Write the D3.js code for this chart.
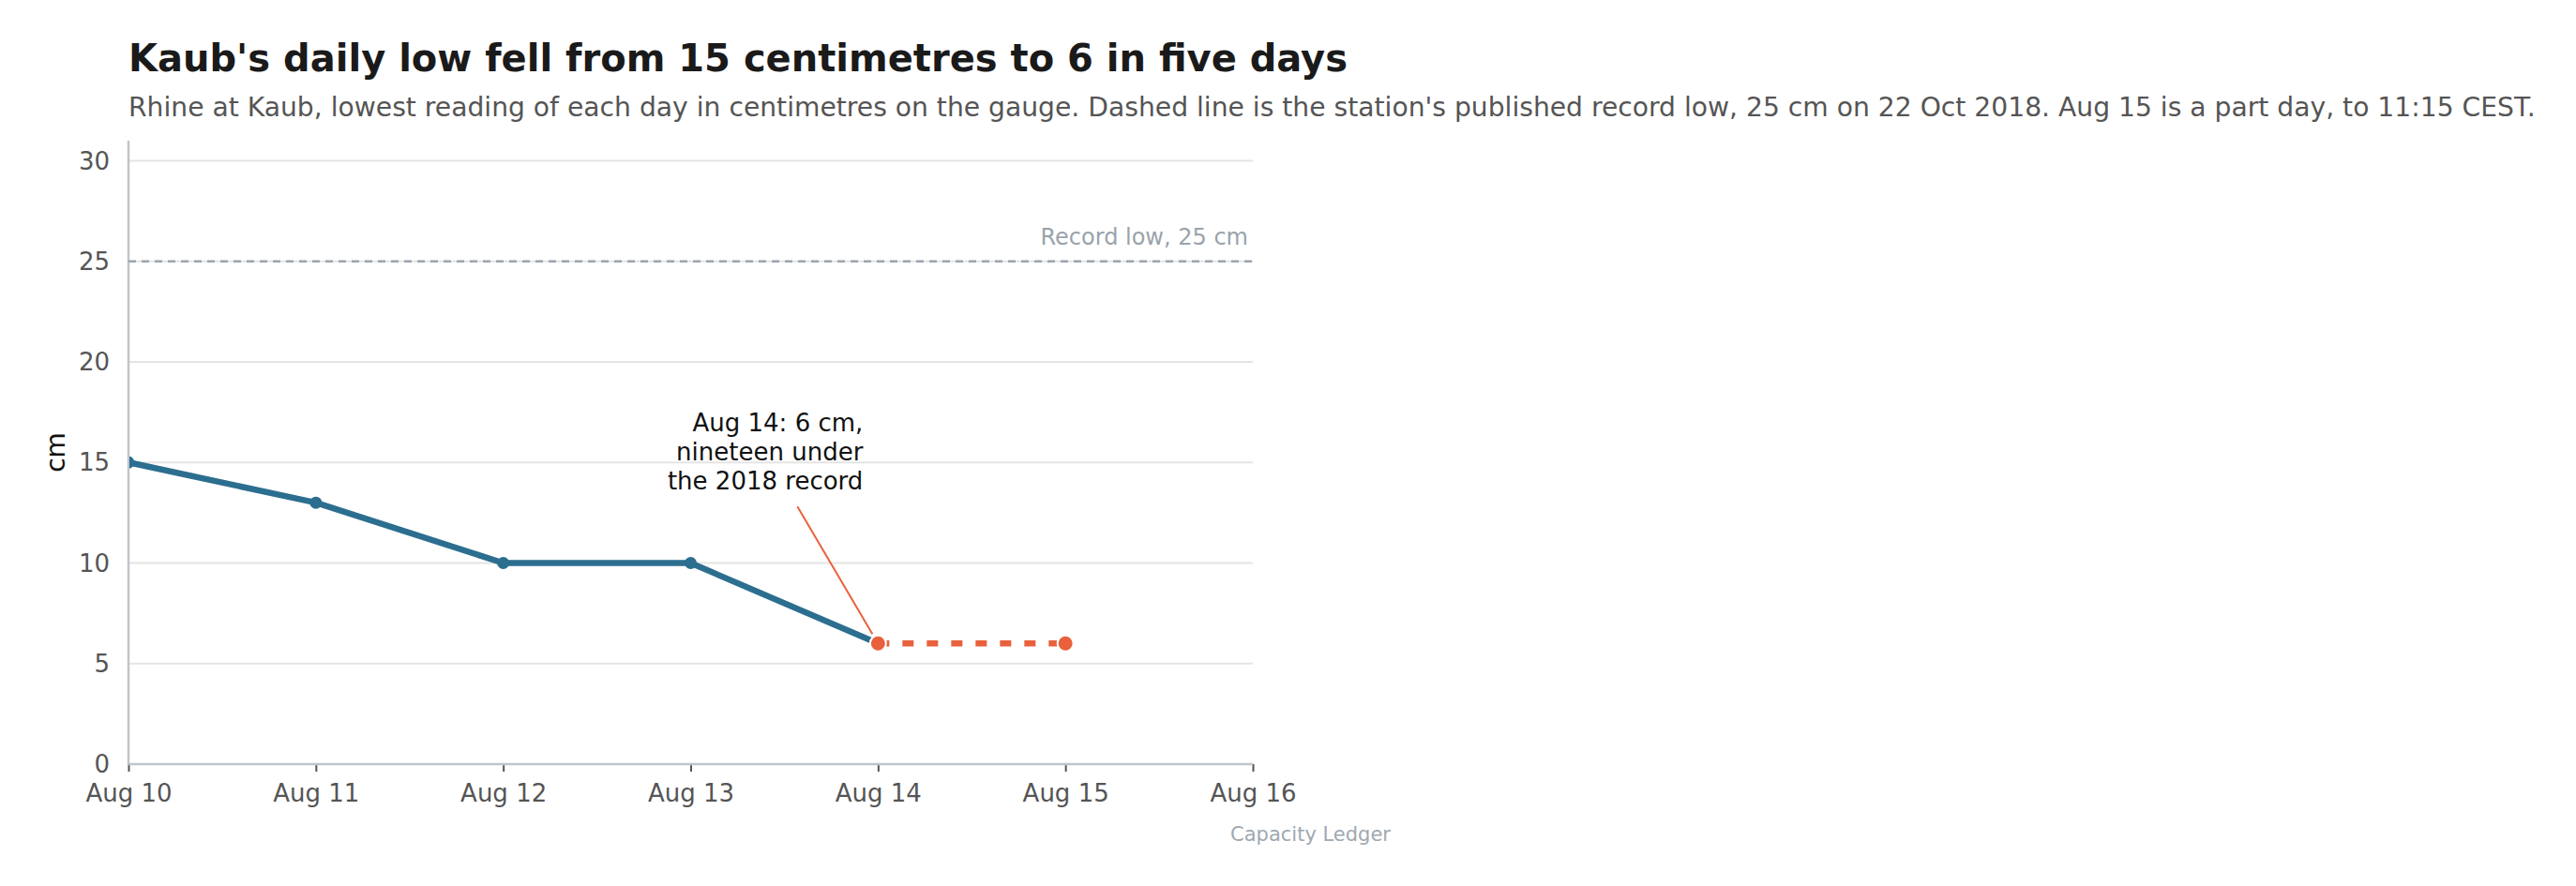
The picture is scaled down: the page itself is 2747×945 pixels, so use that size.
<!DOCTYPE html>
<html>
<head>
<meta charset="utf-8">
<script src="https://cdn.jsdelivr.net/npm/d3@7"></script>
<style>
  html, body { margin: 0; padding: 0; background: #fff; }
  svg { display: block; font-family: "DejaVu Sans", sans-serif; }
</style>
</head>
<body>
<svg id="chart" width="2747" height="945"></svg>
<script>
// ---- data ----
const days = ["2025-08-10", "2025-08-11", "2025-08-12", "2025-08-13", "2025-08-14", "2025-08-15"];
const dailyLow = [15, 13, 10, 10, 6, 6];
const observedIdx = [0, 1, 2, 3, 4];   // blue solid segment
const latestIdx = [4, 5];              // orange dashed segment
const recordLow = 25;
const yTicks = [0, 5, 10, 15, 20, 25, 30];
const xDomain = ["2025-08-10", "2025-08-16"];
const titleText = "Kaub's daily low fell from 15 centimetres to 6 in five days";
const subtitleText = "Rhine at Kaub, lowest reading of each day in centimetres on the gauge. Dashed line is the station's published record low, 25 cm on 22 Oct 2018. Aug 15 is a part day, to 11:15 CEST.";
const annotationLines = ["Aug 14: 6 cm,", "nineteen under", "the 2018 record"];
const recordLabel = "Record low, 25 cm";
const yLabel = "cm";
const caption = "Capacity Ledger";

(function () {
// ---- layout ----
const svg = d3.select("#chart");
const mLeft = 137, mRight = 1336, mTop = 150, mBottom = 815;
const parse = d3.utcParse("%Y-%m-%d");
const pts = days.map((d, i) => ({ date: parse(d), v: dailyLow[i] }));

const x = d3.scaleUtc().domain(xDomain.map(parse)).range([mLeft, mRight]);
const y = d3.scaleLinear().domain([0, 31]).range([mBottom, mTop]);

const blue = "#2c6e8f", orange = "#e8613c";

// title & subtitle
svg.append("text").attr("x", mLeft).attr("y", 76)
  .attr("font-size", 40).attr("font-weight", "bold").attr("fill", "#1a1a1a")
  .text(titleText);
svg.append("text").attr("x", mLeft).attr("y", 124)
  .attr("font-size", 28.2).attr("fill", "#555").text(subtitleText);

// gridlines
svg.append("g").selectAll("line").data(yTicks.filter(t => t !== 0)).join("line")
  .attr("x1", mLeft).attr("x2", mRight)
  .attr("y1", d => y(d)).attr("y2", d => y(d))
  .attr("stroke", "#e4e4e4").attr("stroke-width", 2);

// y tick labels
svg.append("g").selectAll("text").data(yTicks).join("text")
  .attr("x", mLeft - 20).attr("y", d => y(d)).attr("dy", "0.35em")
  .attr("text-anchor", "end").attr("font-size", 26).attr("fill", "#555")
  .text(d => d);

// y axis label
svg.append("text")
  .attr("transform", `translate(69, ${(y(0) + y(31)) / 2}) rotate(-90)`)
  .attr("text-anchor", "middle").attr("font-size", 28).attr("fill", "#111")
  .text(yLabel);

// x axis
const xAxis = d3.axisBottom(x).ticks(d3.utcDay.every(1)).tickFormat(d3.utcFormat("%b %d"))
  .tickSize(8).tickPadding(14);
const gx = svg.append("g").attr("transform", `translate(0, ${mBottom})`).call(xAxis);
gx.select(".domain").remove();
gx.selectAll(".tick line").attr("stroke", "#555").attr("stroke-width", 2);
gx.selectAll(".tick text").attr("font-size", 26).attr("fill", "#555")
  .attr("font-family", "DejaVu Sans, sans-serif");

// axis lines
svg.append("line").attr("x1", mLeft).attr("x2", mRight).attr("y1", mBottom).attr("y2", mBottom)
  .attr("stroke", "#bfc5cc").attr("stroke-width", 2.5);
svg.append("line").attr("x1", mLeft).attr("x2", mLeft).attr("y1", y(31)).attr("y2", mBottom)
  .attr("stroke", "#bfc5cc").attr("stroke-width", 2.5);

// record low line
svg.append("line").attr("x1", mLeft).attr("x2", mRight)
  .attr("y1", y(recordLow)).attr("y2", y(recordLow))
  .attr("stroke", "#9aa5ae").attr("stroke-width", 2.5).attr("stroke-dasharray", "8,6");
svg.append("text").attr("x", mRight - 5).attr("y", y(recordLow) - 18)
  .attr("text-anchor", "end").attr("font-size", 24).attr("fill", "#9aa3ab")
  .text(recordLabel);

// clip
svg.append("defs").append("clipPath").attr("id", "plotclip")
  .append("rect").attr("x", mLeft + 1).attr("y", 0).attr("width", mRight - mLeft + 40).attr("height", mBottom + 20);

const plot = svg.append("g").attr("clip-path", "url(#plotclip)");
const line = d3.line().x(d => x(d.date)).y(d => y(d.v));

plot.append("path").datum(observedIdx.map(i => pts[i]))
  .attr("d", line).attr("fill", "none").attr("stroke", blue).attr("stroke-width", 6.5)
  .attr("stroke-linejoin", "round");
plot.selectAll("circle.obs").data(observedIdx.slice(0, -1).map(i => pts[i])).join("circle")
  .attr("class", "obs").attr("cx", d => x(d.date)).attr("cy", d => y(d.v)).attr("r", 6.5)
  .attr("fill", blue);

plot.append("path").datum(latestIdx.map(i => pts[i]))
  .attr("d", line).attr("fill", "none").attr("stroke", orange).attr("stroke-width", 6.5)
  .attr("stroke-dasharray", "12,14");
plot.selectAll("circle.latest").data(latestIdx.map(i => pts[i])).join("circle")
  .attr("class", "latest").attr("cx", d => x(d.date)).attr("cy", d => y(d.v)).attr("r", 8.5)
  .attr("fill", orange).attr("stroke", "#fff").attr("stroke-width", 2);

// annotation
const ap = pts[4];
const ax = x(ap.date), ay = y(ap.v);
svg.append("line")
  .attr("x1", ax - 86).attr("y1", ay - 146)
  .attr("x2", ax - 6).attr("y2", ay - 10)
  .attr("stroke", orange).attr("stroke-width", 2);
const at = svg.append("text").attr("text-anchor", "end").attr("font-size", 26).attr("fill", "#111");
annotationLines.forEach((t, i) => {
  at.append("tspan").attr("x", ax - 16).attr("y", ay - 226 + i * 31).text(t);
});

// caption
svg.append("text").attr("x", 1483).attr("y", 897).attr("text-anchor", "end")
  .attr("font-size", 21).attr("fill", "#a0a8b0").text(caption);
})();
</script>
</body>
</html>
